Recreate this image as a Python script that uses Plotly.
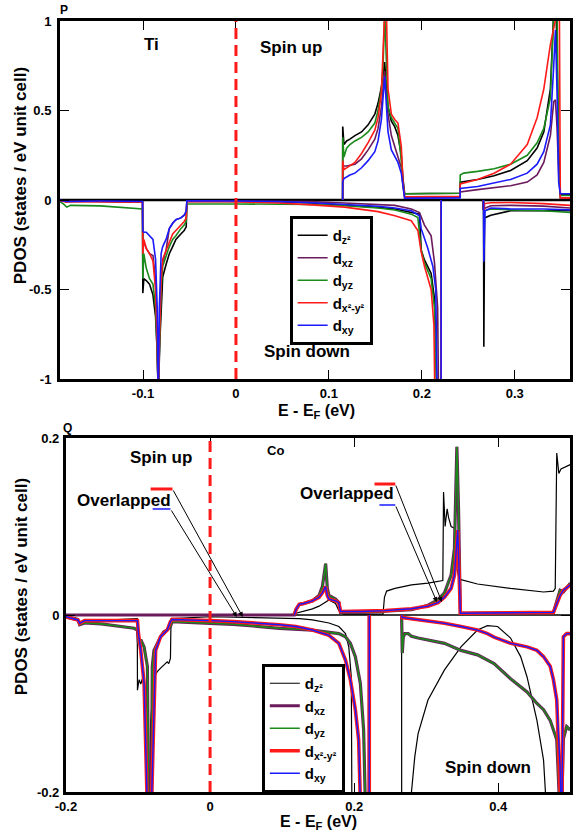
import plotly.graph_objects as go

# ---------------- data: Ti (panel P) ----------------
TI_UP_DZ2_E = [0.1148, 0.1149, 0.1162, 0.1191, 0.1226, 0.1280, 0.1351, 0.1422, 0.1494, 0.1529, 0.1565, 0.1600, 0.1619, 0.1636, 0.1672, 0.1708, 0.1743, 0.1779, 0.1797, 0.1815, 0.2064, 0.2411, 0.2413, 0.2599, 0.2777, 0.2955, 0.3134, 0.3240, 0.3312, 0.3383, 0.3419, 0.3445, 0.3472, 0.3490, 0.3594]
TI_UP_DZ2 = [0, 0.41, 0.31, 0.33, 0.34, 0.36, 0.38, 0.42, 0.48, 0.54, 0.63, 0.77, 0.62, 0.52, 0.44, 0.41, 0.36, 0.25, 0.12, 0.035, 0.036, 0.038, 0.10, 0.115, 0.135, 0.165, 0.22, 0.29, 0.38, 0.62, 1.05, 1.05, 0.30, 0.03, 0.03]

TI_UP_DXZ_E = [0.1148, 0.1149, 0.1191, 0.1280, 0.1351, 0.1422, 0.1494, 0.1529, 0.1565, 0.1600, 0.1619, 0.1636, 0.1672, 0.1708, 0.1743, 0.1779, 0.1797, 0.1815, 0.2411, 0.2413, 0.2599, 0.2777, 0.2955, 0.3134, 0.3240, 0.3312, 0.3383, 0.3419, 0.3437, 0.3455, 0.3472, 0.3490, 0.3594]
TI_UP_DXZ = [0, 0.19, 0.19, 0.20, 0.23, 0.28, 0.34, 0.40, 0.52, 0.72, 0.58, 0.48, 0.36, 0.30, 0.25, 0.18, 0.08, 0.012, 0.015, 0.045, 0.058, 0.068, 0.08, 0.10, 0.14, 0.21, 0.36, 0.55, 0.56, 0.40, 0.15, 0.01, 0.01]

TI_UP_DYZ_E = [0.1148, 0.1149, 0.1162, 0.1191, 0.1226, 0.1280, 0.1351, 0.1422, 0.1494, 0.1529, 0.1565, 0.1583, 0.1600, 0.1619, 0.1636, 0.1672, 0.1708, 0.1743, 0.1779, 0.1797, 0.1815, 0.2064, 0.2411, 0.2413, 0.2450, 0.2599, 0.2777, 0.2955, 0.3134, 0.3240, 0.3312, 0.3383, 0.3419, 0.3455, 0.3472, 0.3490, 0.3594]
TI_UP_DYZ = [0, 0.35, 0.24, 0.29, 0.31, 0.33, 0.35, 0.38, 0.43, 0.50, 0.62, 0.75, 1.05, 0.72, 0.52, 0.46, 0.43, 0.40, 0.22, 0.08, 0.035, 0.036, 0.038, 0.14, 0.15, 0.16, 0.175, 0.20, 0.25, 0.32, 0.40, 0.57, 1.05, 1.05, 0.20, 0.025, 0.025]

TI_UP_DX2Y2_E = [0.1148, 0.1149, 0.1162, 0.1191, 0.1226, 0.1280, 0.1351, 0.1422, 0.1494, 0.1529, 0.1565, 0.1583, 0.1600, 0.1619, 0.1636, 0.1672, 0.1708, 0.1743, 0.1779, 0.1797, 0.1815, 0.2411, 0.2413, 0.2599, 0.2777, 0.2955, 0.3134, 0.3240, 0.3312, 0.3383, 0.3419, 0.3455, 0.3480, 0.3490, 0.3594]
TI_UP_DX2Y2 = [0, 0.22, 0.17, 0.18, 0.19, 0.21, 0.26, 0.32, 0.39, 0.46, 0.60, 0.78, 1.05, 1.05, 0.62, 0.48, 0.45, 0.43, 0.30, 0.10, 0.018, 0.02, 0.09, 0.115, 0.15, 0.20, 0.31, 0.46, 0.62, 0.87, 0.97, 1.05, 1.05, 0.012, 0.012]

TI_UP_DXY_E = [0.1148, 0.1149, 0.1162, 0.1191, 0.1226, 0.1280, 0.1351, 0.1422, 0.1494, 0.1529, 0.1565, 0.1600, 0.1619, 0.1636, 0.1672, 0.1708, 0.1743, 0.1779, 0.1797, 0.1815, 0.2411, 0.2413, 0.2599, 0.2777, 0.2955, 0.3134, 0.3240, 0.3312, 0.3383, 0.3419, 0.3437, 0.3455, 0.3472, 0.3490, 0.3594]
TI_UP_DXY = [0, 0.10, 0.12, 0.13, 0.14, 0.15, 0.18, 0.22, 0.27, 0.33, 0.45, 0.69, 0.50, 0.38, 0.28, 0.24, 0.21, 0.15, 0.06, 0.01, 0.012, 0.065, 0.075, 0.095, 0.115, 0.15, 0.20, 0.27, 0.42, 0.75, 0.95, 0.60, 0.10, 0.035, 0.035]

TI_DN_DZ2_E = [-0.1893, -0.182, -0.146, -0.1005, -0.1002, -0.0991, -0.0965, -0.0930, -0.0893, -0.0865, -0.0847, -0.0834, -0.0820, -0.0800, -0.0788, -0.0752, -0.0717, -0.0681, -0.0646, -0.0593, -0.0557, -0.0535, -0.0528, 0.0, 0.046, 0.0816, 0.117, 0.153, 0.171, 0.1886, 0.1975, 0.1993, 0.2028, 0.2100, 0.2136, 0.2164, 0.2207, 0.2208, None, 0.2664, 0.2667, 0.2675, 0.2742, 0.2955, 0.331, 0.3594]
TI_DN_DZ2 = [-0.003, -0.006, -0.008, -0.012, -0.52, -0.44, -0.45, -0.47, -0.53, -0.65, -0.85, -1.1, -0.80, -0.50, -0.43, -0.36, -0.30, -0.26, -0.22, -0.19, -0.17, -0.15, -0.008, -0.008, -0.01, -0.017, -0.028, -0.041, -0.05, -0.069, -0.079, -0.28, -0.335, -0.41, -0.55, -1.1, -1.1, 0, None, 0, -0.82, -0.10, -0.085, -0.06, -0.058, -0.06]

TI_DN_DXZ_E = [-0.1893, -0.182, -0.146, -0.1005, -0.1002, -0.0965, -0.0930, -0.0893, -0.0865, -0.0847, -0.0836, -0.0822, -0.0805, -0.0788, -0.0752, -0.0717, -0.0681, -0.0646, -0.0593, -0.0557, -0.0535, -0.0528, 0.0, 0.046, 0.0816, 0.117, 0.153, 0.171, 0.1886, 0.1975, 0.2028, 0.2100, 0.2136, 0.2170, 0.2180, 0.2207, 0.2208, None, 0.2655, 0.2657, 0.2742, 0.2955, 0.331, 0.3594]
TI_DN_DXZ = [-0.004, -0.01, -0.008, -0.01, -0.22, -0.27, -0.30, -0.31, -0.45, -0.80, -1.1, -0.80, -0.40, -0.35, -0.28, -0.16, -0.13, -0.11, -0.10, -0.085, -0.07, -0.006, -0.006, -0.006, -0.009, -0.017, -0.025, -0.03, -0.05, -0.07, -0.14, -0.20, -0.35, -0.60, -1.1, -1.1, 0, None, 0, -0.05, -0.032, -0.03, -0.034, -0.045]

TI_DN_DYZ_E = [-0.1893, -0.186, -0.182, -0.178, -0.146, -0.1037, -0.1005, -0.1002, -0.0991, -0.0965, -0.0930, -0.0893, -0.0865, -0.0847, -0.0836, -0.0822, -0.0805, -0.0788, -0.0752, -0.0717, -0.0681, -0.0646, -0.0593, -0.0557, -0.0535, -0.0528, 0.0, 0.046, 0.0816, 0.117, 0.153, 0.171, 0.1886, 0.1957, 0.1993, 0.2028, 0.2100, 0.2136, 0.2160, 0.2207, 0.2208, None, 0.2664, 0.2667, 0.2675, 0.2742, 0.2955, 0.331, 0.3594]
TI_DN_DYZ = [-0.01, -0.02, -0.04, -0.03, -0.033, -0.045, -0.05, -0.44, -0.30, -0.38, -0.44, -0.47, -0.60, -0.85, -1.1, -0.80, -0.50, -0.37, -0.31, -0.26, -0.22, -0.20, -0.16, -0.14, -0.12, -0.022, -0.022, -0.022, -0.025, -0.032, -0.045, -0.056, -0.079, -0.098, -0.28, -0.35, -0.44, -0.60, -1.1, -1.1, 0, None, 0, -0.20, -0.06, -0.05, -0.055, -0.06, -0.07]

TI_DN_DX2Y2_E = [-0.1893, -0.182, -0.178, -0.146, -0.1005, -0.1002, -0.0991, -0.0965, -0.0930, -0.0893, -0.0865, -0.0847, -0.0836, -0.0822, -0.0805, -0.0788, -0.0752, -0.0717, -0.0681, -0.0646, -0.0593, -0.0557, -0.0535, -0.0528, 0.0, 0.046, 0.0816, 0.117, 0.153, 0.171, 0.1886, 0.1957, 0.1993, 0.2028, 0.2100, 0.2130, 0.2140, 0.2207, 0.2208, None, 0.2664, 0.2667, 0.2675, 0.2742, 0.2955, 0.331, 0.3594]
TI_DN_DX2Y2 = [-0.004, -0.012, -0.008, -0.01, -0.012, -0.30, -0.22, -0.27, -0.30, -0.34, -0.50, -0.80, -1.1, -0.75, -0.45, -0.33, -0.28, -0.23, -0.19, -0.17, -0.14, -0.12, -0.10, -0.008, -0.01, -0.017, -0.027, -0.04, -0.065, -0.088, -0.116, -0.17, -0.29, -0.37, -0.50, -0.70, -1.1, -1.1, 0, None, 0, -0.10, -0.02, -0.015, -0.014, -0.02, -0.03]

TI_DN_DXY_E = [-0.1893, -0.182, -0.146, -0.1005, -0.1002, -0.0991, -0.0965, -0.0930, -0.0893, -0.0865, -0.0847, -0.0836, -0.0824, -0.0805, -0.0788, -0.0752, -0.0717, -0.0681, -0.0646, -0.0593, -0.0557, -0.0535, -0.0528, 0.0, 0.046, 0.0816, 0.117, 0.153, 0.171, 0.1886, 0.1975, 0.1993, 0.2064, 0.2118, 0.2150, 0.2165, 0.2207, 0.2208, None, 0.2664, 0.2667, 0.2680, 0.2742, 0.2955, 0.331, 0.3594]
TI_DN_DXY = [-0.002, -0.008, -0.006, -0.008, -0.17, -0.18, -0.18, -0.20, -0.22, -0.33, -0.60, -1.1, -0.60, -0.30, -0.26, -0.22, -0.16, -0.13, -0.11, -0.10, -0.085, -0.06, -0.004, -0.006, -0.008, -0.015, -0.025, -0.035, -0.045, -0.06, -0.088, -0.16, -0.27, -0.37, -0.50, -1.1, -1.1, 0, None, 0, -0.345, -0.06, -0.045, -0.05, -0.05, -0.055]

# ---------------- data: Co (panel Q) ----------------
CO_UP_DZ2_E = [0.1100, 0.1145, 0.1300, 0.1420, 0.1512, 0.1604, 0.1650, 0.1741, 0.1787, 0.1850, 0.2400, 0.2420, 0.2450, 0.2566, 0.2795, 0.3024, 0.3162, 0.3230, 0.3240, 0.3262, 0.3290, 0.3310, 0.3345, 0.3391, 0.3430, 0.3460, 0.3482, 0.3711, 0.4170, 0.4628, 0.4765, 0.4790, 0.4811, 0.4840, 0.4870, 0.5]
CO_UP_DZ2 = [0, 0.001, 0.004, 0.007, 0.01, 0.015, 0.017, 0.013, 0.005, 0.001, 0.001, 0.02, 0.027, 0.03, 0.034, 0.036, 0.038, 0.039, 0.139, 0.10, 0.12, 0.11, 0.10, 0.098, 0.05, 0.04, 0.04, 0.035, 0.03, 0.026, 0.027, 0.03, 0.183, 0.16, 0.165, 0.17]

CO_UP_DXZ_E = [-0.2, 0.1170, 0.1191, 0.1237, 0.1300, 0.1420, 0.1512, 0.1558, 0.1604, 0.1627, 0.1650, 0.1741, 0.1787, 0.1810, 0.2108, 0.2429, 0.2795, 0.3024, 0.3162, 0.3253, 0.3345, 0.3391, 0.3425, 0.3448, 0.3460, 0.3473, 0.4765, 0.4811, 0.4857, 0.4903, 0.5]
CO_UP_DXZ = [0, 0, 0.006, 0.012, 0.013, 0.016, 0.022, 0.032, 0.058, 0.03, 0.022, 0.018, 0.014, 0.003, 0.003, 0.004, 0.006, 0.011, 0.017, 0.025, 0.045, 0.075, 0.19, 0.12, 0.04, 0.002, 0.003, 0.015, 0.028, 0.026, 0.036]

CO_UP_DYZ_E = [0.1170, 0.1191, 0.1237, 0.1300, 0.1420, 0.1512, 0.1558, 0.1604, 0.1627, 0.1650, 0.1741, 0.1787, 0.1810, 0.2108, 0.2429, 0.2795, 0.3024, 0.3162, 0.3253, 0.3345, 0.3391, 0.3425, 0.3448, 0.3460, 0.3473, 0.4765, 0.4811, 0.4857, 0.4903, 0.5]
CO_UP_DYZ = [0, 0.006, 0.012, 0.013, 0.016, 0.022, 0.032, 0.058, 0.03, 0.022, 0.018, 0.014, 0.003, 0.003, 0.004, 0.006, 0.011, 0.017, 0.025, 0.045, 0.075, 0.19, 0.12, 0.04, 0.002, 0.003, 0.015, 0.028, 0.026, 0.036]

CO_UP_DX2Y2_E = [0.1170, 0.1191, 0.1237, 0.1300, 0.1420, 0.1512, 0.1558, 0.1604, 0.1627, 0.1650, 0.1741, 0.1787, 0.1810, 0.2108, 0.2429, 0.2795, 0.3024, 0.3162, 0.3253, 0.3345, 0.3391, 0.3437, 0.3460, 0.3473, 0.4765, 0.4811, 0.4857, 0.4903, 0.5]
CO_UP_DX2Y2 = [0, 0.006, 0.012, 0.013, 0.016, 0.02, 0.025, 0.032, 0.022, 0.018, 0.016, 0.014, 0.004, 0.004, 0.005, 0.007, 0.01, 0.014, 0.02, 0.03, 0.045, 0.096, 0.04, 0.002, 0.003, 0.012, 0.022, 0.028, 0.034]
# d_xy overlaps d_x2-y2 in the reference ("Overlapped")
CO_UP_DXY_E = [0.1170, 0.1191, 0.1237, 0.1300, 0.1420, 0.1512, 0.1558, 0.1604, 0.1627, 0.1650, 0.1741, 0.1787, 0.1810, 0.2108, 0.2429, 0.2795, 0.3024, 0.3162, 0.3253, 0.3345, 0.3391, 0.3437, 0.3460, 0.3473, 0.4765, 0.4811, 0.4857, 0.4903, 0.5]
CO_UP_DXY = [0, 0.006, 0.012, 0.013, 0.016, 0.02, 0.025, 0.032, 0.022, 0.018, 0.016, 0.014, 0.004, 0.004, 0.005, 0.007, 0.01, 0.014, 0.02, 0.03, 0.045, 0.096, 0.04, 0.002, 0.003, 0.012, 0.022, 0.028, 0.034]

CO_DN_DZ2_E = [-0.2, -0.1833, -0.181, -0.1741, -0.1512, -0.1054, -0.1010, -0.1008, -0.0985, -0.0962, -0.0939, -0.0916, -0.0870, -0.0847, -0.0825, -0.0779, -0.0733, -0.0687, -0.0641, -0.0595, -0.0573, -0.055, -0.0545, -0.0540, 0.0, 0.1242, 0.142, 0.165, 0.1787, 0.1879, 0.1925, 0.1960, 0.1970, 0.2209, 0.2210, None, 0.2658, 0.2659, 0.2795, 0.2841, 0.2887, 0.3024, 0.3253, 0.3482, 0.3711, 0.3849, 0.399, 0.4078, 0.417, 0.431, 0.4399, 0.4536, 0.4628, 0.4690]
CO_DN_DZ2 = [-0.001, -0.004, -0.009, -0.006, -0.006, -0.004, -0.004, -0.085, -0.073, -0.078, -0.072, -0.081, -0.11, -0.25, -0.12, -0.07, -0.064, -0.06, -0.056, -0.053, -0.055, -0.049, -0.02, -0.004, -0.002, -0.004, -0.0056, -0.009, -0.013, -0.021, -0.036, -0.07, -0.25, -0.25, 0, None, 0, -0.25, -0.2, -0.16, -0.134, -0.096, -0.062, -0.036, -0.017, -0.012, -0.013, -0.019, -0.026, -0.047, -0.07, -0.119, -0.164, -0.25]

CO_DN_DYZ_E = [-0.2, -0.1833, -0.181, -0.1741, -0.1512, -0.1054, -0.1008, -0.0994, -0.0962, -0.0916, -0.087, -0.0850, -0.0815, -0.0802, -0.0779, -0.0733, -0.0687, -0.0641, -0.0595, -0.055, -0.0527, 0.0, 0.0325, 0.0962, 0.142, 0.1787, 0.1879, 0.1947, 0.2016, 0.2085, 0.2131, 0.2165, 0.2209, 0.2210, None, 0.2658, 0.2667, 0.2681, 0.2704, 0.2749, 0.2795, 0.2887, 0.3024, 0.3253, 0.3482, 0.3711, 0.3941, 0.417, 0.4399, 0.4536, 0.4628, 0.472, 0.4811, 0.4857, 0.4870, 0.4903, 0.4949, 0.5]
CO_DN_DYZ = [-0.002, -0.0056, -0.011, -0.009, -0.010, -0.015, -0.017, -0.032, -0.028, -0.036, -0.058, -0.25, -0.25, -0.058, -0.04, -0.032, -0.0245, -0.019, -0.017, -0.013, -0.0075, -0.0094, -0.0105, -0.015, -0.017, -0.021, -0.0245, -0.032, -0.047, -0.077, -0.13, -0.25, -0.25, 0, None, 0, -0.043, -0.025, -0.021, -0.021, -0.024, -0.026, -0.028, -0.032, -0.04, -0.045, -0.055, -0.072, -0.087, -0.10, -0.107, -0.119, -0.141, -0.25, -0.25, -0.14, -0.126, -0.13]
# d_xz overlaps d_yz in the reference
CO_DN_DXZ_E = [-0.2, -0.1833, -0.181, -0.1741, -0.1512, -0.1054, -0.1008, -0.0994, -0.0962, -0.0916, -0.087, -0.0850, -0.0815, -0.0802, -0.0779, -0.0733, -0.0687, -0.0641, -0.0595, -0.055, -0.0527, 0.0, 0.0325, 0.0962, 0.142, 0.1787, 0.1879, 0.1947, 0.2016, 0.2085, 0.2131, 0.2165, 0.2209, 0.2210, None, 0.2658, 0.2667, 0.2681, 0.2704, 0.2749, 0.2795, 0.2887, 0.3024, 0.3253, 0.3482, 0.3711, 0.3941, 0.417, 0.4399, 0.4536, 0.4628, 0.472, 0.4811, 0.4857, 0.4870, 0.4903, 0.4949, 0.5]
CO_DN_DXZ = [-0.002, -0.0056, -0.011, -0.009, -0.010, -0.015, -0.017, -0.032, -0.028, -0.036, -0.058, -0.25, -0.25, -0.058, -0.04, -0.032, -0.0245, -0.019, -0.017, -0.013, -0.0075, -0.0094, -0.0105, -0.015, -0.017, -0.021, -0.0245, -0.032, -0.047, -0.077, -0.13, -0.25, -0.25, 0, None, 0, -0.043, -0.025, -0.021, -0.021, -0.024, -0.026, -0.028, -0.032, -0.04, -0.045, -0.055, -0.072, -0.087, -0.10, -0.107, -0.119, -0.141, -0.25, -0.25, -0.14, -0.126, -0.13]

CO_DN_DX2Y2_E = [-0.2, -0.1924, -0.1833, -0.181, -0.1741, -0.1512, -0.1054, -0.1008, -0.0994, -0.0962, -0.0916, -0.0885, -0.0860, -0.0825, -0.0795, -0.0779, -0.0756, -0.0687, -0.0595, -0.055, -0.0527, 0.0, 0.0325, 0.0962, 0.1191, 0.142, 0.165, 0.1787, 0.1879, 0.1947, 0.2016, 0.2062, 0.2099, 0.2209, 0.2210, None, 0.2658, 0.2667, 0.2681, 0.3024, 0.3253, 0.3482, 0.3711, 0.3849, 0.3941, 0.417, 0.4399, 0.4536, 0.4628, 0.472, 0.4765, 0.4811, 0.4834, 0.4857, 0.488, 0.4903, 0.4949, 0.5]
CO_DN_DX2Y2 = [-0.002, -0.004, -0.0056, -0.0094, -0.0064, -0.0064, -0.0064, -0.0064, -0.021, -0.04, -0.077, -0.15, -0.25, -0.25, -0.15, -0.09, -0.04, -0.0245, -0.017, -0.0075, -0.005, -0.0064, -0.0075, -0.011, -0.013, -0.017, -0.023, -0.032, -0.051, -0.073, -0.107, -0.141, -0.25, -0.25, 0, None, 0, -0.003, -0.003, -0.0064, -0.0094, -0.013, -0.017, -0.021, -0.025, -0.032, -0.036, -0.04, -0.047, -0.058, -0.073, -0.096, -0.134, -0.171, -0.25, -0.0245, -0.021, -0.021]
# d_xy overlaps d_x2-y2 in the reference
CO_DN_DXY_E = [-0.2, -0.1924, -0.1833, -0.181, -0.1741, -0.1512, -0.1054, -0.1008, -0.0994, -0.0962, -0.0916, -0.0885, -0.0860, -0.0825, -0.0795, -0.0779, -0.0756, -0.0687, -0.0595, -0.055, -0.0527, 0.0, 0.0325, 0.0962, 0.1191, 0.142, 0.165, 0.1787, 0.1879, 0.1947, 0.2016, 0.2062, 0.2099, 0.2209, 0.2210, None, 0.2658, 0.2667, 0.2681, 0.3024, 0.3253, 0.3482, 0.3711, 0.3849, 0.3941, 0.417, 0.4399, 0.4536, 0.4628, 0.472, 0.4765, 0.4811, 0.4834, 0.4857, 0.488, 0.4903, 0.4949, 0.5]
CO_DN_DXY = [-0.002, -0.004, -0.0056, -0.0094, -0.0064, -0.0064, -0.0064, -0.0064, -0.021, -0.04, -0.077, -0.15, -0.25, -0.25, -0.15, -0.09, -0.04, -0.0245, -0.017, -0.0075, -0.005, -0.0064, -0.0075, -0.011, -0.013, -0.017, -0.023, -0.032, -0.051, -0.073, -0.107, -0.141, -0.25, -0.25, 0, None, 0, -0.003, -0.003, -0.0064, -0.0094, -0.013, -0.017, -0.021, -0.025, -0.032, -0.036, -0.04, -0.047, -0.058, -0.073, -0.096, -0.134, -0.171, -0.25, -0.0245, -0.021, -0.021]

# ---------------- axes / labels ----------------
ORBITALS = ["d<sub>z²</sub>", "d<sub>xz</sub>", "d<sub>yz</sub>", "d<sub>x²-y²</sub>", "d<sub>xy</sub>"]
COLORS = ["#000000", "#6b1b5c", "#1a8a1a", "#ff1a1a", "#1a1aff"]
TOP_WIDTHS = [1.6, 1.6, 1.6, 1.6, 1.6]
BOT_WIDTHS = [1.2, 3.2, 1.6, 3.6, 1.4]

TOP_XRANGE = [-0.1893, 0.3594]
TOP_YRANGE = [-1, 1]
TOP_XTICKS = [-0.1, 0, 0.1, 0.2, 0.3]
TOP_XLABELS = ["-0.1", "0", "0.1", "0.2", "0.3"]
TOP_YTICKS = [-1, -0.5, 0, 0.5, 1]
TOP_YLABELS = ["-1", "-0.5", "0", "0.5", "1"]

BOT_XRANGE = [-0.2, 0.4995]
BOT_YRANGE = [-0.2, 0.2]
BOT_XTICKS = [-0.2, 0, 0.2, 0.4]
BOT_XLABELS = ["-0.2", "0", "0.2", "0.4"]
BOT_YTICKS = [-0.2, 0, 0.2]
BOT_YLABELS = ["-0.2", "0", "0.2"]

W, H = 574, 836
ML, MR, MT, MB = 60, 1, 21, 44
PW, PH = W - ML - MR, H - MT - MB


def px_x(px):
    return (px - ML) / PW


def px_y(py):
    return (H - MB - py) / PH


FONT = "Liberation Sans, Arial, Helvetica, sans-serif"

ti_up = [(TI_UP_DZ2_E, TI_UP_DZ2), (TI_UP_DXZ_E, TI_UP_DXZ), (TI_UP_DYZ_E, TI_UP_DYZ),
         (TI_UP_DX2Y2_E, TI_UP_DX2Y2), (TI_UP_DXY_E, TI_UP_DXY)]
ti_dn = [(TI_DN_DZ2_E, TI_DN_DZ2), (TI_DN_DXZ_E, TI_DN_DXZ), (TI_DN_DYZ_E, TI_DN_DYZ),
         (TI_DN_DX2Y2_E, TI_DN_DX2Y2), (TI_DN_DXY_E, TI_DN_DXY)]
co_up = [(CO_UP_DZ2_E, CO_UP_DZ2), (CO_UP_DXZ_E, CO_UP_DXZ), (CO_UP_DYZ_E, CO_UP_DYZ),
         (CO_UP_DX2Y2_E, CO_UP_DX2Y2), (CO_UP_DXY_E, CO_UP_DXY)]
co_dn = [(CO_DN_DZ2_E, CO_DN_DZ2), (CO_DN_DXZ_E, CO_DN_DXZ), (CO_DN_DYZ_E, CO_DN_DYZ),
         (CO_DN_DX2Y2_E, CO_DN_DX2Y2), (CO_DN_DXY_E, CO_DN_DXY)]

for group in (ti_up, ti_dn, co_up, co_dn):
    for e, v in group:
        assert len(e) == len(v), (len(e), len(v))

fig = go.Figure()

for i in range(5):
    for (e, v), show in ((ti_up[i], True), (ti_dn[i], False)):
        fig.add_trace(go.Scatter(x=e, y=v, mode="lines", name=ORBITALS[i],
                                 line=dict(color=COLORS[i], width=TOP_WIDTHS[i]),
                                 xaxis="x", yaxis="y", legend="legend",
                                 showlegend=show, connectgaps=False))
for i in range(5):
    for (e, v), show in ((co_up[i], True), (co_dn[i], False)):
        fig.add_trace(go.Scatter(x=e, y=v, mode="lines", name=ORBITALS[i],
                                 line=dict(color=COLORS[i], width=BOT_WIDTHS[i]),
                                 xaxis="x2", yaxis="y2", legend="legend2",
                                 showlegend=show, connectgaps=False))

axis_common = dict(showline=True, linecolor="black", linewidth=3, mirror="allticks",
                   ticks="inside", ticklen=9, tickwidth=1.3, tickcolor="black",
                   showgrid=False, zeroline=False,
                   tickfont=dict(family=FONT, size=13, color="black", weight="bold"))

fig.update_layout(
    width=W, height=H,
    margin=dict(l=ML, r=MR, t=MT, b=MB),
    paper_bgcolor="white", plot_bgcolor="white",
    font=dict(family=FONT, color="black", weight="bold"),
    xaxis=dict(domain=[0, 1], anchor="y", range=TOP_XRANGE, tickvals=TOP_XTICKS,
               ticktext=TOP_XLABELS, **axis_common),
    yaxis=dict(domain=[px_y(379), 1], anchor="x", range=TOP_YRANGE, tickvals=TOP_YTICKS,
               ticktext=TOP_YLABELS, ticklabelstandoff=3, **axis_common),
    xaxis2=dict(domain=[px_x(66), 1], anchor="y2", range=BOT_XRANGE, tickvals=BOT_XTICKS,
                ticktext=BOT_XLABELS, **axis_common),
    yaxis2=dict(domain=[0, px_y(438)], anchor="x2", range=BOT_YRANGE, tickvals=BOT_YTICKS,
                ticktext=BOT_YLABELS, ticklabelstandoff=1, **axis_common),
    legend=dict(x=px_x(291), y=px_y(216), xanchor="left", yanchor="top",
                bordercolor="black", borderwidth=3, bgcolor="white",
                font=dict(family=FONT, size=15, color="black", weight="bold"),
                itemwidth=30, tracegroupgap=0),
    legend2=dict(x=px_x(263), y=px_y(664), xanchor="left", yanchor="top",
                 bordercolor="black", borderwidth=3, bgcolor="white",
                 font=dict(family=FONT, size=15, color="black", weight="bold"),
                 itemwidth=30, tracegroupgap=0),
    showlegend=True,
)

# zero lines
fig.add_shape(type="line", xref="x domain", yref="y", x0=0, x1=1, y0=0, y1=0,
              line=dict(color="black", width=2.5), layer="below")
fig.add_shape(type="line", xref="x2 domain", yref="y2", x0=0, x1=1, y0=0, y1=0,
              line=dict(color="black", width=1.5), layer="below")

# Fermi level
for xr, yr in (("x", "y domain"), ("x2", "y2 domain")):
    fig.add_shape(type="line", xref=xr, yref=yr, x0=0, x1=0, y0=0, y1=1,
                  line=dict(color="#ff1a1a", width=3, dash="11px,6px"))


def text(s, px, py, size=17, **kw):
    fig.add_annotation(text=s, x=px_x(px), y=px_y(py), xref="paper", yref="paper",
                       showarrow=False, xanchor="center", yanchor="middle",
                       font=dict(family=FONT, size=size, color="black", weight="bold"), **kw)


text("P", 64, 10, 12)
text("Ti", 152, 44, 17)
text("Spin up", 292, 48, 17)
text("Spin down", 308, 351, 17)
text("Q", 68, 428, 12)
text("Spin up", 162, 457, 17)
text("Co", 277, 450, 13)
text("Overlapped", 124, 500, 17)
text("Overlapped", 349, 493, 17)
text("Spin down", 491, 767, 17)
text("PDOS (states / eV unit cell)", 21, 176, 17, textangle=-90)
text("PDOS (states / eV unit cell)", 21, 587, 17, textangle=-90)
text("E - E<sub>F</sub> (eV)", 318, 411, 16)
text("E - E<sub>F</sub> (eV)", 320, 822, 16)

# "Overlapped" markers and arrows (data coordinates of panel Q)
MARK_RED = [(-0.0825, -0.0522, 0.1424), (0.2282, 0.257, 0.148)]
MARK_BLUE = [(-0.0797, -0.055, 0.1198), (0.235, 0.257, 0.1243)]
ARROWS = [((-0.0522, 0.1424), (0.0454, -0.0023)), ((-0.055, 0.1198), (0.0371, -0.0023)),
          ((0.257, 0.148), (0.3216, 0.0147)), ((0.257, 0.1243), (0.3148, 0.0147))]
for x0, x1, y in MARK_RED:
    fig.add_shape(type="line", xref="x2", yref="y2", x0=x0, x1=x1, y0=y, y1=y,
                  line=dict(color="#ff1a1a", width=3))
for x0, x1, y in MARK_BLUE:
    fig.add_shape(type="line", xref="x2", yref="y2", x0=x0, x1=x1, y0=y, y1=y,
                  line=dict(color="#1a1aff", width=1.5))
for (tx, ty), (hx, hy) in ARROWS:
    fig.add_annotation(x=hx, y=hy, ax=tx, ay=ty, xref="x2", yref="y2", axref="x2", ayref="y2",
                       text="", showarrow=True, arrowhead=2, arrowsize=1, arrowwidth=1,
                       arrowcolor="black")

fig.write_html("out.html")
